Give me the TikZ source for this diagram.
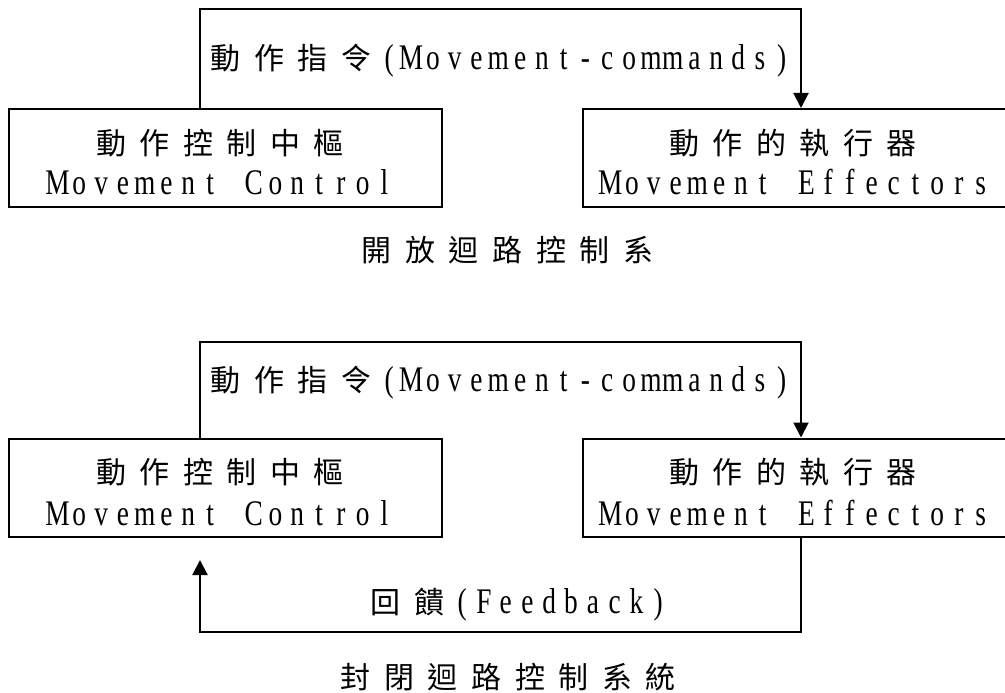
\documentclass[tikz,border=0pt]{standalone}
\usepackage{fontspec}
\usetikzlibrary{arrows.meta}
\newfontfamily\latf{Liberation Serif}[FakeStretch=0.76]
\newfontfamily\cjkf{Noto Sans CJK TC}
\newlength\lcell \setlength\lcell{21.8pt}
\newlength\ccell \setlength\ccell{43.6pt}
\makeatletter
\def\Lsp#1{{\latf\fontsize{36pt}{36pt}\selectfont\Lsp@i#1\relax}}
\def\Lsp@i#1{\ifx#1\relax\else\makebox[\lcell][c]{#1}\expandafter\Lsp@i\fi}
\def\Csp#1{{\cjkf\fontsize{30pt}{30pt}\selectfont\Csp@i#1\relax}}
\def\Csp@i#1{\ifx#1\relax\else\makebox[\ccell][c]{#1}\expandafter\Csp@i\fi}
\makeatother
\tikzset{
  box/.style={draw, line width=2pt, minimum width=433pt, minimum height=98pt, inner sep=0pt},
  rbox/.style={box, minimum width=427pt},
  conn/.style={line width=2pt},
  arr/.style={conn, -{Triangle[width=15pt,length=15pt]}},
  txt/.style={inner sep=0pt, outer sep=0pt}
}
\begin{document}
\begin{tikzpicture}[x=1pt, y=-1pt]
\useasboundingbox (0,0) rectangle (1005,693);
% ---------- open loop ----------
\node[box] (lc1) at (225,158) {};
\node[rbox] (rc1) at (796.5,158) {};
\node[txt, anchor=base] (lc1a) at (220,154) {\Csp{動作控制中樞}};
\node[txt, anchor=base] (lc1b) at (221,194.5) {\Lsp{Movement~Control}};
\node[txt, anchor=base] (rc1a) at (793,154) {\Csp{動作的執行器}};
\node[txt, anchor=base] (rc1b) at (795.5,194.5) {\Lsp{Movement~Effectors}};
\coordinate (tl1) at (200,9.5);
\coordinate (tr1) at (801,9.5);
\draw[arr] (lc1.north -| tl1) -- (tl1) -- (tr1) -- (rc1.north -| tr1);
\node[txt, anchor=base west] (lab1) at (204,70) {\Csp{動作指令}\Lsp{(Movement-commands)}};
\node[txt, anchor=base] (cap1) at (507.6,261.4) {\Csp{開放迴路控制系}};
% ---------- closed loop ----------
\node[box] (lc2) at (225,487.5) {};
\node[rbox] (rc2) at (796.5,487.5) {};
\node[txt, anchor=base] (lc2a) at (220,483) {\Csp{動作控制中樞}};
\node[txt, anchor=base] (lc2b) at (221,525) {\Lsp{Movement~Control}};
\node[txt, anchor=base] (rc2a) at (793,483) {\Csp{動作的執行器}};
\node[txt, anchor=base] (rc2b) at (795.5,525) {\Lsp{Movement~Effectors}};
\coordinate (tl2) at (200,341.7);
\coordinate (tr2) at (801,341.7);
\draw[arr] (lc2.north -| tl2) -- (tl2) -- (tr2) -- (rc2.north -| tr2);
\node[txt, anchor=base west] (lab2) at (204,391.5) {\Csp{動作指令}\Lsp{(Movement-commands)}};
\coordinate (fbr) at (801,632);
\coordinate (fbl) at (200,632);
\coordinate (fbe) at (200,560);
\draw[arr] (rc2.south -| fbr) -- (fbr) -- (fbl) -- (fbe);
\node[txt, anchor=base west] (fbt) at (364,613.5) {\Csp{回饋}\Lsp{(Feedback)}};
\node[txt, anchor=base] (cap2) at (508.4,688.4) {\Csp{封閉迴路控制系統}};
\end{tikzpicture}
\end{document}
